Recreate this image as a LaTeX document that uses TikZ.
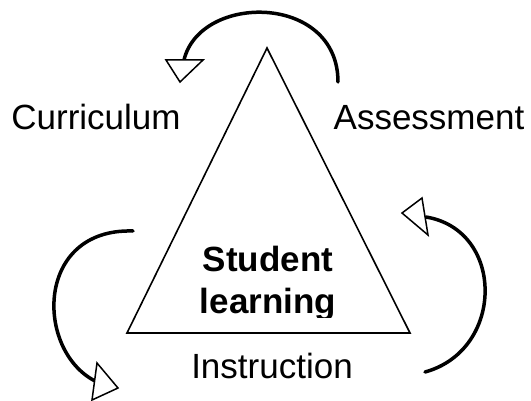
\documentclass[tikz,border=0pt]{standalone}
\usepackage{fontspec}
\setmainfont{Liberation Sans}
\usepackage{tikz}

\begin{document}
\begin{tikzpicture}[x=1pt,y=1pt,
  word/.style={anchor=base, inner sep=0pt, font=\fontsize{35}{42}\selectfont},
  loop/.style={line width=3.5pt, line cap=round},
  head/.style={line width=1.5pt, line join=miter, fill=white}]
\clip (0,0) rectangle (531,400);

% the triangle
\coordinate (apex) at (267,352);
\coordinate (left) at (127,67);
\coordinate (right) at (410,67);
\draw [line width=1.6pt] (apex) -- (left) -- (right) -- cycle;

% corner labels
\node [word] (curriculum) at (96,271) {Curriculum};
\node [word] (assessment) at (429,271) {Assessment};
\node [word] (instruction) at (272,22) {Instruction};

% centre text, cut off just under the baseline
\begin{scope}
\clip (150,83) rectangle (390,300);
\node [word, font=\fontsize{35}{42}\selectfont\bfseries] (student) at (268,129) {Student};
\node [word, font=\fontsize{35}{42}\selectfont\bfseries] (learning) at (268,87) {learning};
\end{scope}

% assessment -> curriculum
\coordinate (a1) at (338,318);
\coordinate (a2) at (184,340);
\draw [loop] (a1) .. controls (338,407) and (200,407) .. (a2);
\draw [head] (166,340) -- (203,340) -- (180,318) -- cycle;

% curriculum -> instruction
\coordinate (c1) at (133,169);
\coordinate (c2) at (95,19);
\draw [loop] (c1) .. controls (35,172) and (35,50) .. (c2);
\draw [head] (97,37) -- (118,12) -- (92,0) -- cycle;

% instruction -> assessment
\coordinate (i1) at (425,28);
\coordinate (i2) at (426,183);
\draw [loop] (i1) .. controls (505,50) and (505,170) .. (i2);
\draw [head] (422,202) -- (428,165) -- (402,187) -- cycle;

\end{tikzpicture}
\end{document}
